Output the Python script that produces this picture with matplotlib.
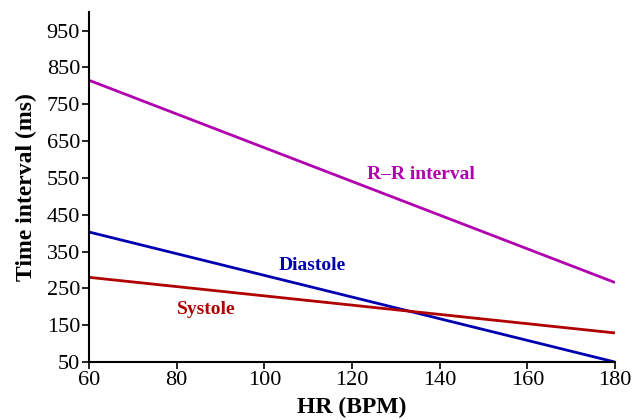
import matplotlib
matplotlib.use("Agg")
import matplotlib.pyplot as plt

hr = [60, 180]
rr = [815, 266]
diastole = [403, 50]
systole = [280, 129]
xticks = [60, 80, 100, 120, 140, 160, 180]
yticks = [50, 150, 250, 350, 450, 550, 650, 750, 850, 950]

plt.rcParams['font.family'] = ['Liberation Serif', 'DejaVu Serif']

fig = plt.figure(figsize=(6.32, 4.2), dpi=100)
ax = fig.add_axes([0.141, 0.138, 0.832, 0.833])

c_rr = '#b000b0'
c_d = '#0000b0'
c_s = '#b00000'
ax.plot(hr, rr, color=c_rr, lw=2, solid_capstyle='butt')
ax.plot(hr, diastole, color=c_d, lw=2, solid_capstyle='butt')
ax.plot(hr, systole, color=c_s, lw=2, solid_capstyle='butt')

ax.text(135.7, 560, 'R–R interval', color=c_rr, fontsize=14, fontweight='bold', ha='center', va='center')
ax.text(111, 313, 'Diastole', color=c_d, fontsize=14, fontweight='bold', ha='center', va='center')
ax.text(86.8, 194, 'Systole', color=c_s, fontsize=14, fontweight='bold', ha='center', va='center')

ax.set_xlim(60, 180)
ax.set_ylim(50, 1000)
ax.set_xticks(xticks)
ax.set_yticks(yticks)
ax.tick_params(labelsize=16, length=5, width=1.2, direction='out', pad=1.5)
for s in ['top', 'right']:
    ax.spines[s].set_visible(False)
for s in ['left', 'bottom']:
    ax.spines[s].set_linewidth(1.5)
ax.set_xlabel('HR (BPM)', fontsize=17, fontweight='bold', labelpad=5)
ax.set_ylabel('Time interval (ms)', fontsize=17, fontweight='bold', labelpad=7)

fig.savefig('out.png', dpi=100)
